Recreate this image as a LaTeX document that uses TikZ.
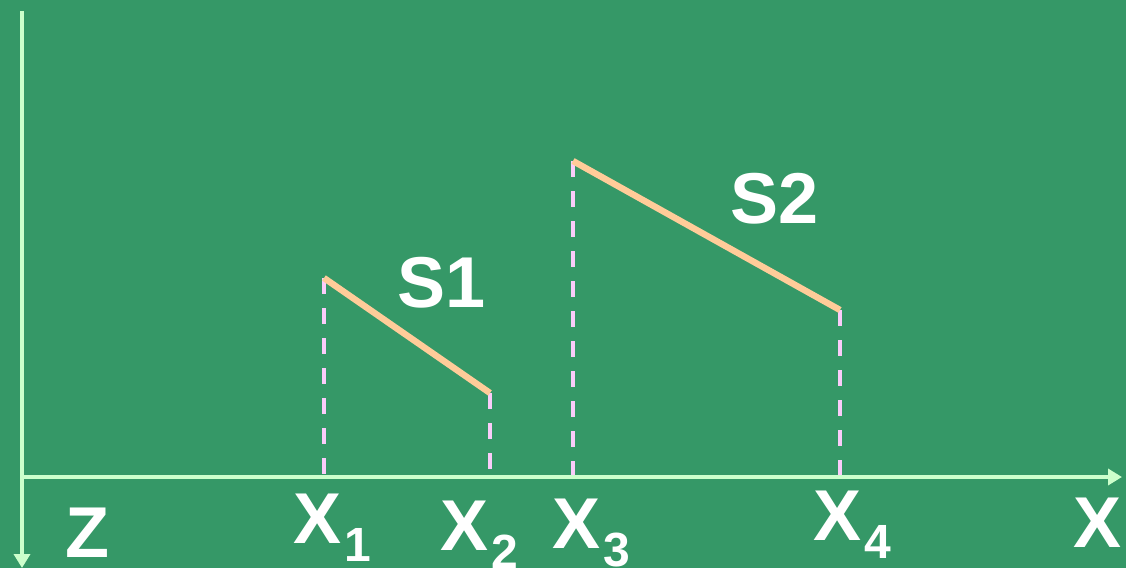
\documentclass[tikz,border=0pt]{standalone}
\usepackage{fontspec}
\setmainfont{Liberation Sans}
\usepackage{tikz}
\usetikzlibrary{arrows.meta}

\newcommand{\xsub}[1]{X\kern1.5pt\raisebox{-9pt}{\fontsize{24}{24}\selectfont #1}}

\begin{document}
\begin{tikzpicture}[x=0.5pt,y=-0.5pt]
                \definecolor{bgcolor}{RGB}{53,152,103}
                \definecolor{axiscolor}{RGB}{204,255,204}
                \definecolor{segcolor}{RGB}{255,204,153}
                \definecolor{dashcolor}{RGB}{250,204,250}
                \tikzset{
                    lbl/.style={anchor=base west, inner sep=0pt, text=white,
                        font=\fontsize{36}{36}\selectfont\bfseries},
                    axis/.style={axiscolor, line width=2.2pt,
                        -{Triangle[width=8pt,length=7pt]}},
                    seg/.style={segcolor, line width=3.2pt},
                    drop/.style={dashcolor, line width=2pt, dash pattern=on 8pt off 7pt}
                }
                
                \useasboundingbox (0,0) rectangle (1126,568);
                \fill[bgcolor] (0,0) rectangle (1126,568);
                
                \coordinate (O) at (22, 477);
                \coordinate (ztop) at (22, 11);
                \coordinate (zend) at (22, 568);
                \coordinate (xend) at (1122, 477);
                \coordinate (A1) at (324, 278);
                \coordinate (B1) at (490, 393);
                \coordinate (A2) at (573, 161);
                \coordinate (B2) at (840, 310);
                
                \draw[drop] (A1) -- (A1 |- O);
                \draw[drop] (B1) -- (B1 |- O);
                \draw[drop] (A2) -- (A2 |- O);
                \draw[drop] (B2) -- (B2 |- O);
                
                \draw[axis] (ztop) -- (zend);
                \draw[axis] (O) -- (xend);
                
                \draw[seg] (A1) -- (B1);
                \draw[seg] (A2) -- (B2);
                
                \node[lbl] (s1) at (397, 307) {S1};
                \node[lbl] (s2) at (730, 223) {S2};
                \node[lbl] (zlab) at (65, 557) {Z};
                \node[lbl] (xlab) at (1073, 547) {X};
                \node[lbl] (x1) at (293, 543) {\xsub{1}};
                \node[lbl] (x2) at (440, 550) {\xsub{2}};
                \node[lbl] (x3) at (552, 548) {\xsub{3}};
                \node[lbl] (x4) at (813, 540) {\xsub{4}};
            \end{tikzpicture}
\end{document}
